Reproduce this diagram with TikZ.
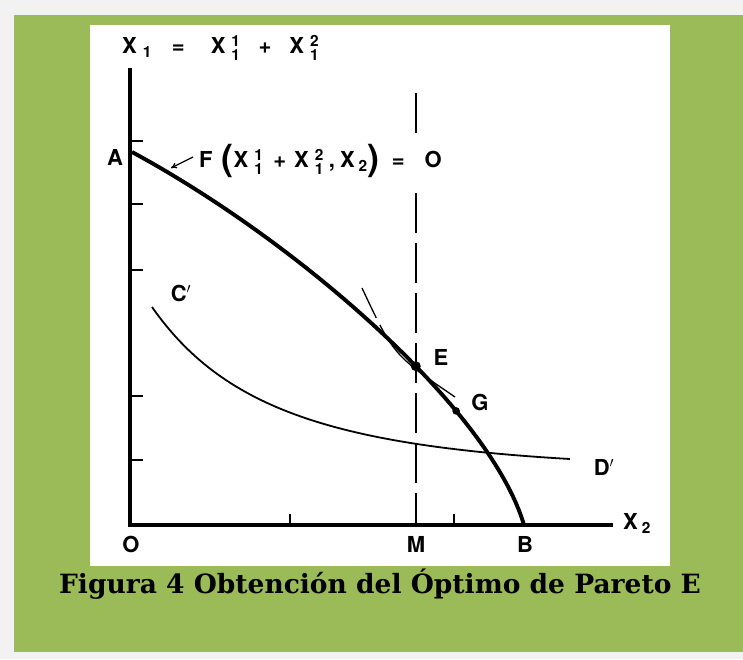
\documentclass[tikz,border=0pt]{standalone}
\usepackage{amsmath}
\usepackage{graphicx}
\usepackage{fontspec}
\setmainfont{DejaVu Serif}
\setsansfont{TeX Gyre Heros}
\usetikzlibrary{arrows.meta}
\definecolor{framegray}{HTML}{F2F2F2}
\definecolor{pagegreen}{HTML}{9BBB59}
\tikzset{
  axisline/.style={line width=3.3pt,black},
  tickmark/.style={line width=2.2pt,black},
  frontier/.style={line width=3.9pt,black},
  indiff/.style={line width=1.8pt,black},
  guide/.style={line width=1.9pt,black,dash pattern=on 40pt off 10pt},
  tangent/.style={line width=1.3pt,black,dash pattern=on 33pt off 8pt on 300pt off 1pt},
  pointer/.style={-{To[length=6pt,width=6pt]},line width=1.3pt,black},
  lbl/.style={font=\sffamily\bfseries\fontsize{22}{22}\selectfont,inner sep=0pt},
  caption/.style={font=\bfseries\fontsize{26.5}{26.5}\selectfont,inner sep=0pt,text=black}
}
\newcommand{\xsub}[2]{X\hspace{6pt}$^{\textsf{\bfseries #1}}_{\textsf{\bfseries #2}}$}
\newcommand{\bigpar}[1]{\raisebox{-3pt}{\fontsize{36}{36}\selectfont #1}}
\begin{document}
\begin{tikzpicture}[x=1pt,y=-1pt]
  \useasboundingbox (0,0) rectangle (743,659);
  % background and panel
  \fill[framegray] (0,0) rectangle (743,659);
  \fill[pagegreen] (14,15) rectangle (743,652);
  \fill[white] (90,25) rectangle (670,566);
  % axes
  \draw[axisline] (130,68) -- (130,525) -- (613,525);
  \foreach \yy in {141,204,270,396,460}
    \draw[tickmark] (130,\yy) -- (143,\yy);
  \foreach \xx in {290,454}
    \draw[tickmark] (\xx,525) -- (\xx,514);
  % curves
  \coordinate (ptA) at (132,152);
  \coordinate (ptB) at (524,525);
  \draw[frontier] (ptA) .. controls (300,243) and (490,410) .. (ptB)
    coordinate[pos=0.59] (ptE) coordinate[pos=0.7] (ptG);
  \draw[indiff] (152,307) .. controls (222,407) and (330,445) .. (570,459);
  \draw[tangent] (362,288) .. controls (393.5,355) .. (455,397);
  % vertical guide through M
  \draw[guide] (ptE |- 0,93) -- (ptE |- 0,133);
  \draw[guide] (ptE |- 0,193) -- (ptE |- 0,525);
  \fill (ptE) circle (5);
  \fill (ptG) circle (3.8);
  % labels
  \node[lbl,anchor=west] (labX1) at (122,48)
    {X\hspace{6pt}$_{\textsf{\bfseries 1}}$\hspace{20pt}=\hspace{26pt}\xsub{1}{1}\hspace{18pt}+\hspace{18pt}\xsub{2}{1}};
  \node[lbl] (labA) at (115,157) {A};
  \node[lbl,anchor=west] (flabel) at (199,161)
    {F\hspace{9pt}\bigpar{(}\xsub{1}{1}\hspace{10pt}+\hspace{8pt}\xsub{2}{1}\hspace{5pt},\hspace{5pt}X\hspace{4pt}$_{\textsf{\bfseries 2}}$\bigpar{)}\hspace{12pt}=\hspace{20pt}O};
  \coordinate (ptail) at (193,157);
  \coordinate (onAB) at (171,168);
  \draw[pointer] (ptail) -- (onAB);
  \node[lbl] (labC) at (181,293) {C$'$};
  \node[lbl] (labD) at (604,467) {D$'$};
  \node[lbl] (labE) at (441,357) {E};
  \node[lbl] (labG) at (480,402) {G};
  \node[lbl] (labO) at (131,544) {O};
  \node[lbl] (labM) at (416,544) {M};
  \node[lbl] (labB) at (525,544) {B};
  \node[lbl,anchor=west] (labX2) at (623,523) {X\hspace{4pt}$_{\textsf{\bfseries 2}}$};
  % caption
  \node[caption,anchor=base] (cap) at (380,593) {Figura 4 Obtención del Óptimo de Pareto E};
\end{tikzpicture}
\end{document}
